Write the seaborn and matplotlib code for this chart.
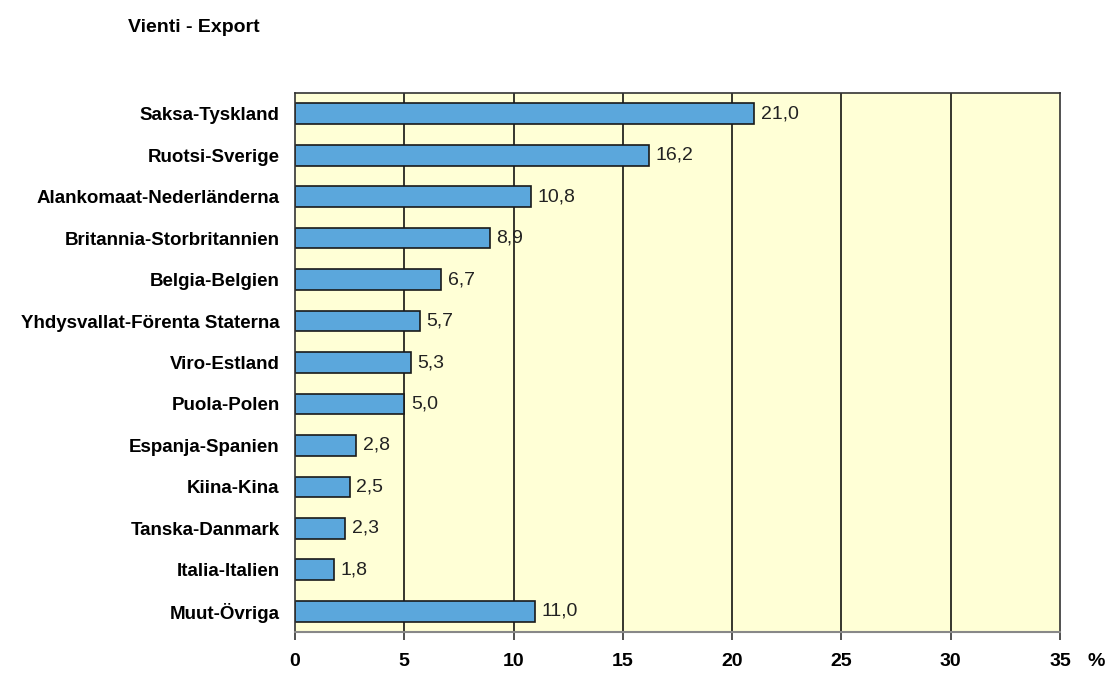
import numpy as np
import pandas as pd
import seaborn as sns
import matplotlib.pyplot as plt

# Vientimaat - osuudet prosentteina
countries = ['Saksa-Tyskland', 'Ruotsi-Sverige', 'Alankomaat-Nederländerna',
             'Britannia-Storbritannien', 'Belgia-Belgien',
             'Yhdysvallat-Förenta Staterna', 'Viro-Estland', 'Puola-Polen',
             'Espanja-Spanien', 'Kiina-Kina', 'Tanska-Danmark',
             'Italia-Italien', 'Muut-Övriga']
shares = [21.0, 16.2, 10.8, 8.9, 6.7, 5.7, 5.3, 5.0, 2.8, 2.5, 2.3, 1.8, 11.0]
xticks = [0, 5, 10, 15, 20, 25, 30, 35]

df = pd.DataFrame({'maa': countries, 'osuus': shares})

sns.set_style('white')
plt.rcParams['font.family'] = ['Liberation Sans', 'DejaVu Sans']
plt.rcParams['text.color'] = 'black'
plt.rcParams['xtick.color'] = 'black'
plt.rcParams['ytick.color'] = 'black'

fig = plt.figure(figsize=(11.06, 6.73), dpi=100)
ax = fig.add_axes([0.2667, 0.0609, 0.9584 - 0.2667, 0.8618 - 0.0609])
ax.set_facecolor('#FFFFD6')

sns.barplot(data=df, x='osuus', y='maa', orient='h', color='#5BA7DC',
            saturation=1, width=0.5, edgecolor='#1a1a1a', linewidth=1.2, ax=ax)

for x in xticks[1:-1]:
    ax.axvline(x, color='black', lw=1.1, zorder=0)

for i, v in enumerate(shares):
    ax.text(v + 0.3, i, f'{v:.1f}'.replace('.', ','), va='center', ha='left',
            fontsize=14, color='#222222')

ax.set_xlim(0, 35)
ax.set_ylim(12.5, -0.5)
ax.set_xticks(xticks)
ax.set_xticklabels([str(t) for t in xticks], fontweight='bold', fontsize=14)
ax.tick_params(axis='x', bottom=True, direction='out', length=6, width=1.2,
               color='#333333', pad=9)
ax.tick_params(axis='y', length=0, pad=11)
for lbl in ax.get_yticklabels():
    lbl.set_fontweight('bold')
    lbl.set_fontsize(13.5)
ax.set_xlabel('')
ax.set_ylabel('')
for s in ['top', 'left', 'right']:
    ax.spines[s].set_color('#333333')
    ax.spines[s].set_linewidth(1.2)
ax.spines['bottom'].set_color('#888888')
ax.spines['bottom'].set_linewidth(1.5)

fig.text(1096 / 1106, 1 - 661 / 673, '%', fontsize=14,
         fontweight='bold', ha='center', va='center')
fig.text(128 / 1106, 1 - 28 / 673, 'Vienti - Export', fontsize=14,
         fontweight='bold', va='center', ha='left')

fig.savefig('out.png', dpi=100)
